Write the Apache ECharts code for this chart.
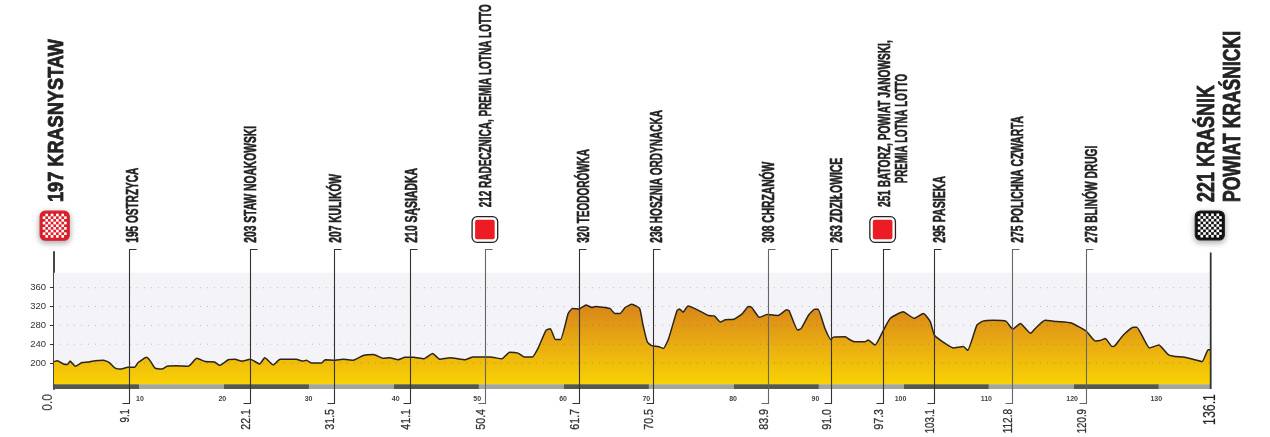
<!DOCTYPE html>
<html><head><meta charset="utf-8">
<style>html,body{margin:0;padding:0;background:#fff}#c{width:1270px;height:437px}</style>
<script src="https://cdn.jsdelivr.net/npm/echarts@6/dist/echarts.min.js"></script>
</head><body><div id="c"></div>
<script>
// --- data ---
const profileKm = [0,0.4,1.1,1.6,1.9,2.5,3.3,4,4.8,5.8,6.5,7.2,7.8,8.7,9.5,9.9,10.9,11.3,11.9,12.7,13.3,14.4,15.8,16.8,17.8,18.9,19.5,20.5,21.3,22.1,23.1,24.2,24.8,25.8,26.6,28.5,29.3,29.7,30.3,31.5,31.9,33.1,34,35.2,36.4,37.6,38.7,39.5,40.5,41.3,42.3,43.5,44.55,45.4,46.6,48.4,49.3,51.3,52.7,53.6,54.6,55.3,56.3,57,57.9,58.4,59,59.6,60.5,61,61.8,62.6,63.3,63.7,65.4,66,66.6,67.2,68,68.9,69.3,69.8,70.3,71.1,71.7,72.3,73.3,73.6,74,74.6,75.6,77,77.7,78.4,79,80,81,81.7,82.1,83,83.9,85.2,86.2,86.5,87.5,87.9,88.8,89.5,89.9,90.7,91.4,91.7,93.1,93.6,94.2,95.4,95.8,96.6,97.6,98.4,99.9,101.2,102.3,103.1,103.6,104.8,105.8,107,107.5,108.6,109.3,110.5,112,112.8,113.7,114.9,115.6,116.6,118,119.7,121.5,122.5,123.1,123.7,124.5,124.8,125.8,127,127.4,128.9,130,131.1,131.9,132.9,134,135.1,135.8,136.1];
const profileEle = [203,205,198,197,204,193,201,202,205,206,201,189,187,191,191,201,212,205,189,187,193,194,193,210,203,202,195,207,208,204,208,198,211,196,208,208,204,206,200,200,207,206,208,206,216,218,210,211,207,212,212,209,220,208,211,207,213,213,209,223,221,213,213,233,270,273,250,250,305,316,315,323,318,320,316,305,305,318,325,316,281,245,237,235,231,251,311,315,308,321,314,301,300,287,292,293,305,320,318,297,303,301,313,311,270,273,302,314,314,274,250,255,256,250,245,245,249,238,270,295,309,295,305,288,259,242,232,235,227,281,289,291,289,272,284,263,276,291,288,285,267,247,248,252,235,236,259,276,276,232,238,218,214,213,208,203,228,228];
const yTicks = [200,240,280,320,360];
const bandEdges = [0,10,20,30,40,50,60,70,80,90,100,110,120,130,136.1];
const kmTickAt = [10.12,19.8,29.95,40.2,49.8,59.9,69.7,79.9,89.6,99.6,109.7,119.8,129.7];
const panelRange = [0,136.1,392,154.7];
const placeNames = ["195 OSTRZYCA","203 STAW NOAKOWSKI","207 KULIKÓW","210 SĄSIADKA","212 RADECZNICA, PREMIA LOTNA LOTTO","320 TEODORÓWKA","236 HOSZNIA ORDYNACKA","308 CHRZANÓW","263 ZDZIŁOWICE","251 BATORZ, POWIAT JANOWSKI,","295 PASIEKA","275 POLICHNA CZWARTA","278 BLINÓW DRUGI"];
const placeKm = ["9.1","22.1","31.5","41.1","50.4","61.7","70.5","83.9","91.0","97.3","103.1","112.8","120.9"];
const placeAt = [8.86,23.1,32.9,41.9,50.7,61.8,70.5,83.96,91.4,97.5,103.6,112.7,121.4];
const sprintAt = [50.7,97.5];

// --- layout ---
const placeShift = [3.7,1.3,2,1.7,1,4.7,4.2,1.3,5.6,1.8,5.4,5.5,6];
const placeSpan  = [75,116.7,68.7,74.7,203,93.7,132.7,81,85,166.7,66.7,126.7,97];
const placeStart = [242.7,242.7,242.7,242.7,207.3,242.7,242.7,242.7,242.7,207,242.7,242.7,242.7];
const lineGrey = [0,0,0,0,1,0,0,1,0,0,0,1,1];
const kmSpan = {3:13.5,4:20.7,5:24.3};
const sans = '"Liberation Sans",sans-serif';
const ctx = document.createElement('canvas').getContext('2d');
function vtext(text, x, y, font, span, fill, align, heavy) {
  ctx.font = font;
  const w = ctx.measureText(text).width;
  const style = {text, x:0, y:0, font, fill, align: align || 'left', verticalAlign:'middle'};
  if (heavy) { style.stroke = fill; style.lineWidth = heavy; }
  return {type:'text', x, y, rotation:Math.PI/2, scaleX: span / w, z2:10, style};
}
function checker(cx, cy, base, edge, dot) {
  const size = 29, inset = 2.5, n = 9, cell = (size - 2*inset) / n, kids = [];
  kids.push({type:'rect', shape:{x:cx-size/2, y:cy-size/2, width:size, height:size, r:5},
    style:{fill:base, stroke:edge, lineWidth:1.2, shadowBlur:6, shadowColor:'rgba(0,0,0,.35)', shadowOffsetY:2}});
  for (let r=0;r<n;r++) for (let c=0;c<n;c++) if ((r+c)%2) kids.push({type:'rect',
    shape:{x:cx-size/2+inset+c*cell, y:cy-size/2+inset+r*cell, width:cell, height:cell}, style:{fill:dot}});
  return {type:'group', children:kids};
}
const base = {type:'custom', silent:true, animation:false, clip:false};
const chart = echarts.init(document.getElementById('c'), null, {renderer:'canvas'});
chart.setOption({
  animation:false,
  grid:{left:54, right:59.3, top:252, height:137},
  xAxis:{type:'value', min:0, max:136.1, splitLine:{show:false}, axisLine:{show:false}, axisTick:{show:false},
    axisLabel:{customValues:kmTickAt, margin:6.5, color:'#444', fontFamily:'"Liberation Sans"', fontWeight:'bold', fontSize:7,
      formatter:v=>String(Math.round(v/10)*10)}},
  yAxis:{type:'value', min:144.75, max:435.9, splitLine:{show:false},
    axisLine:{show:true, lineStyle:{color:'#333', width:1.8}},
    axisTick:{show:true, customValues:yTicks, length:4, lineStyle:{color:'#333', width:1}},
    axisLabel:{customValues:yTicks, margin:8, color:'#333', fontFamily:'"Liberation Sans"', fontSize:9.5}},
  series:[
    {...base, z:1, data:[panelRange], renderItem:(p,api)=>{
      const a=api.coord([api.value(0),api.value(2)]), b=api.coord([api.value(1),api.value(3)]);
      return {type:'rect', shape:{x:a[0],y:a[1],width:b[0]-a[0],height:b[1]-a[1]}, style:{fill:'#F4F4F8'}};
    }},
    {type:'line', z:2, silent:true, animation:false, symbol:'none', smooth:0.15,
      data:profileKm.map((k,i)=>[k,profileEle[i]]),
      lineStyle:{color:'#2a241c', width:1.5},
      areaStyle:{origin:154.7, opacity:1, color:new echarts.graphic.LinearGradient(0,0,0,1,[
        {offset:0,color:'#D7841A'},{offset:0.5,color:'#E9AC12'},{offset:1,color:'#F9D204'}])}},
    {...base, z:3, data:yTicks.map(t=>[0,t]), renderItem:(p,api)=>{
      const y=api.coord([0,api.value(1)])[1], x0=api.coord([0.7,0])[0], x1=api.coord([136.1,0])[0];
      return {type:'line', shape:{x1:x0,y1:y,x2:x1,y2:y}, style:{stroke:'rgba(70,70,70,.32)', lineWidth:1, lineDash:[1,6]}};
    }},
    {...base, z:3, data:bandEdges.slice(0,-1).map((e,i)=>[e,bandEdges[i+1],i]), renderItem:(p,api)=>{
      const a=api.coord([api.value(0),154.7]), b=api.coord([api.value(1),144.75]);
      return {type:'rect', shape:{x:a[0],y:a[1],width:b[0]-a[0],height:b[1]-a[1]},
        style:{fill:api.value(2)%2?'#A5A59B':'#57574C'}};
    }},
    {...base, z:4, data:placeAt.map((k,i)=>[k,i]), renderItem:(p,api)=>{
      const i=api.value(1), x=Math.round(api.coord([api.value(0),200])[0])+0.5;
      const col=lineGrey[i]?'#666':'#333';
      const kids=[
        {type:'polyline', shape:{points:[[x+7,249.5],[x,249.5],[x,403.5],[x-7,403.5]]}, style:{fill:null, stroke:col, lineWidth:1.1}},
        vtext(placeNames[i], x+placeShift[i], placeStart[i], 'bold 17px '+sans, placeSpan[i], '#222', 'left', 0.6),
        vtext(placeKm[i], x-3.8, 409, '13px '+sans, kmSpan[placeKm[i].length], '#333', 'right', 0.3)
      ];
      if (i===9) kids.push(vtext('PREMIA LOTNA LOTTO', x+18.5, 183.3, 'bold 17px '+sans, 109.3, '#222', 'left', 0.6));
      return {type:'group', children:kids};
    }},
    {...base, z:5, data:sprintAt.map(k=>[k,0]), renderItem:(p,api)=>{
      const x=api.coord([api.value(0),200])[0], s=25.6;
      return {type:'group', children:[
        {type:'rect', shape:{x:x-s/2,y:216.7,width:s,height:s,r:5}, style:{fill:'#fff',stroke:'#222',lineWidth:1.3}},
        {type:'rect', shape:{x:x-s/2+3,y:219.7,width:s-6,height:s-6,r:2}, style:{fill:'#ED1C24'}}
      ]};
    }},
    {...base, z:5, data:[[0,0],[136.1,1]], renderItem:(p,api)=>{
      const x=api.coord([api.value(0),200])[0], e=api.value(1);
      const kids=[];
      if (e===0) {
        kids.push(checker(x+0.7,225.7,'#E2202C','#D8232E','#fff'));
        kids.push(vtext('197 KRASNYSTAW', x+3, 202, 'bold 22px '+sans, 163, '#222', 'left', 0.8));
        kids.push(vtext('0.0', x-5.7, 394, '14px '+sans, 16.7, '#444', 'right', 0.2));
      } else {
        kids.push(checker(x-0.9,225.5,'#111','#222','#fff'));
        kids.push({type:'line', shape:{x1:x,y1:252.5,x2:x,y2:389}, style:{stroke:'#333',lineWidth:1.8}});
        kids.push(vtext('221 KRAŚNIK', x-3.2, 202, 'bold 23px '+sans, 117, '#222', 'left', 0.8));
        kids.push(vtext('POWIAT KRAŚNICKI', x+22.8, 202, 'bold 23px '+sans, 171, '#222', 'left', 0.8));
        kids.push(vtext('136.1', x+0.1, 394, '16.5px '+sans, 31, '#222', 'right', 0.2));
      }
      return {type:'group', children:kids};
    }}
  ]
});
</script></body></html>
